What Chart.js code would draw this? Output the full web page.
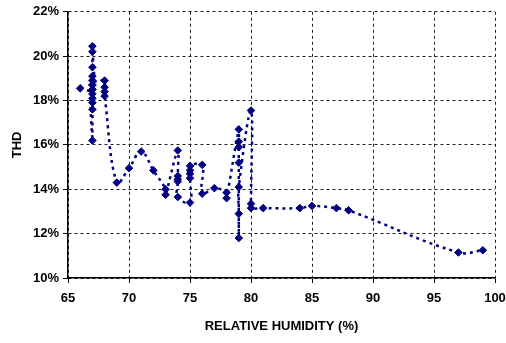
<!DOCTYPE html>
<html>
<head>
<meta charset="utf-8">
<script src="https://cdn.jsdelivr.net/npm/chart.js@4.4.0/dist/chart.umd.min.js"></script>
<style>
  html, body { margin: 0; padding: 0; background: #fff; }
  #wrap { width: 506px; height: 343px; }
</style>
</head>
<body>
<div id="wrap"><canvas id="thd"></canvas></div>
<script>
// Relative humidity (%) and THD (%), in line order
const humidity = [
    66,
    67, 67, 67, 67, 67, 67, 67, 67, 67, 67, 67, 67, 67, 67,
    68, 68, 68, 68,
    69, 70, 71, 72, 73, 73,
    74, 74, 74, 74, 74,
    75, 75, 75, 75, 75,
    76, 76, 77, 78, 78,
    79, 79, 79, 79, 79, 79, 79,
    80, 80, 80, 81, 84, 85, 87, 88, 97, 99
];
const thd = [
    18.55,
    18.5, 20.45, 20.2, 19.5, 19.1, 18.9, 18.7, 18.5, 18.3, 18.1, 17.9, 17.6, 16.2, 18.7,
    18.9, 18.6, 18.4, 18.2,
    14.3, 14.95, 15.7, 14.85, 14.0, 13.75,
    15.75, 14.6, 14.45, 14.35, 13.65,
    13.4, 14.5, 14.7, 14.85, 15.05,
    15.1, 13.8, 14.05, 13.85, 13.6,
    16.7, 16.15, 15.9, 15.2, 11.8, 12.9, 14.1,
    17.55, 13.35, 13.15, 13.15, 13.15, 13.25, 13.15, 13.05, 11.15, 11.25
];
const xTicks = [65, 70, 75, 80, 85, 90, 95, 100];
const yTicks = [10, 12, 14, 16, 18, 20, 22];

const navy = '#000080';
const points = humidity.map((h, i) => ({ x: h, y: thd[i] }));

Chart.defaults.font.family = '"Liberation Sans", Arial, sans-serif';
Chart.defaults.font.size = 12;
Chart.defaults.font.weight = 'bold';
Chart.defaults.color = '#000';

new Chart(document.getElementById('thd'), {
    type: 'line',
    data: {
        datasets: [{
            data: points,
            borderColor: navy,
            backgroundColor: navy,
            borderWidth: 2.5,
            borderDash: [3, 4],
            tension: 0.4,
            pointStyle: 'rectRot',
            pointRadius: 3.8,
            pointBorderWidth: 1,
            fill: false,
        }]
    },
    options: {
        responsive: true,
        maintainAspectRatio: false,
        animation: false,
        layout: { padding: { left: 10, right: 11, top: 11, bottom: 9 } },
        plugins: {
            legend: { display: false },
            tooltip: { enabled: false },
        },
        scales: {
            x: {
                type: 'linear',
                min: 65,
                max: 100,
                afterBuildTicks: (s) => { s.ticks = xTicks.map(v => ({ value: v })); },
                afterFit: (s) => { s.height = 56; s.paddingRight = 0; s.paddingLeft = 0; },
                ticks: { padding: 8, font: { size: 13, weight: 'bold' } },
                grid: { color: '#222', tickColor: '#000', tickLength: 5, tickBorderDash: [] },
                border: { display: true, color: '#000', width: 1.5, dash: [3, 3] },
                title: {
                    display: true,
                    text: 'RELATIVE HUMIDITY (%)',
                    font: { size: 13, weight: 'bold' },
                    padding: { top: 0, bottom: 0 },
                },
            },
            y: {
                type: 'linear',
                min: 10,
                max: 22,
                afterBuildTicks: (s) => { s.ticks = yTicks.map(v => ({ value: v })); },
                afterFit: (s) => { s.width = 58; },
                ticks: {
                    padding: 4,
                    font: { size: 13, weight: 'bold' },
                    callback: (v) => v + '%',
                },
                grid: { color: '#222', tickColor: '#000', tickLength: 5, tickBorderDash: [] },
                border: { display: true, color: '#000', width: 1.5, dash: [3, 3] },
                title: {
                    display: true,
                    text: 'THD',
                    font: { size: 13, weight: 'bold' },
                    padding: { top: 0, bottom: 0 },
                },
            }
        }
    }
});
</script>
</body>
</html>
